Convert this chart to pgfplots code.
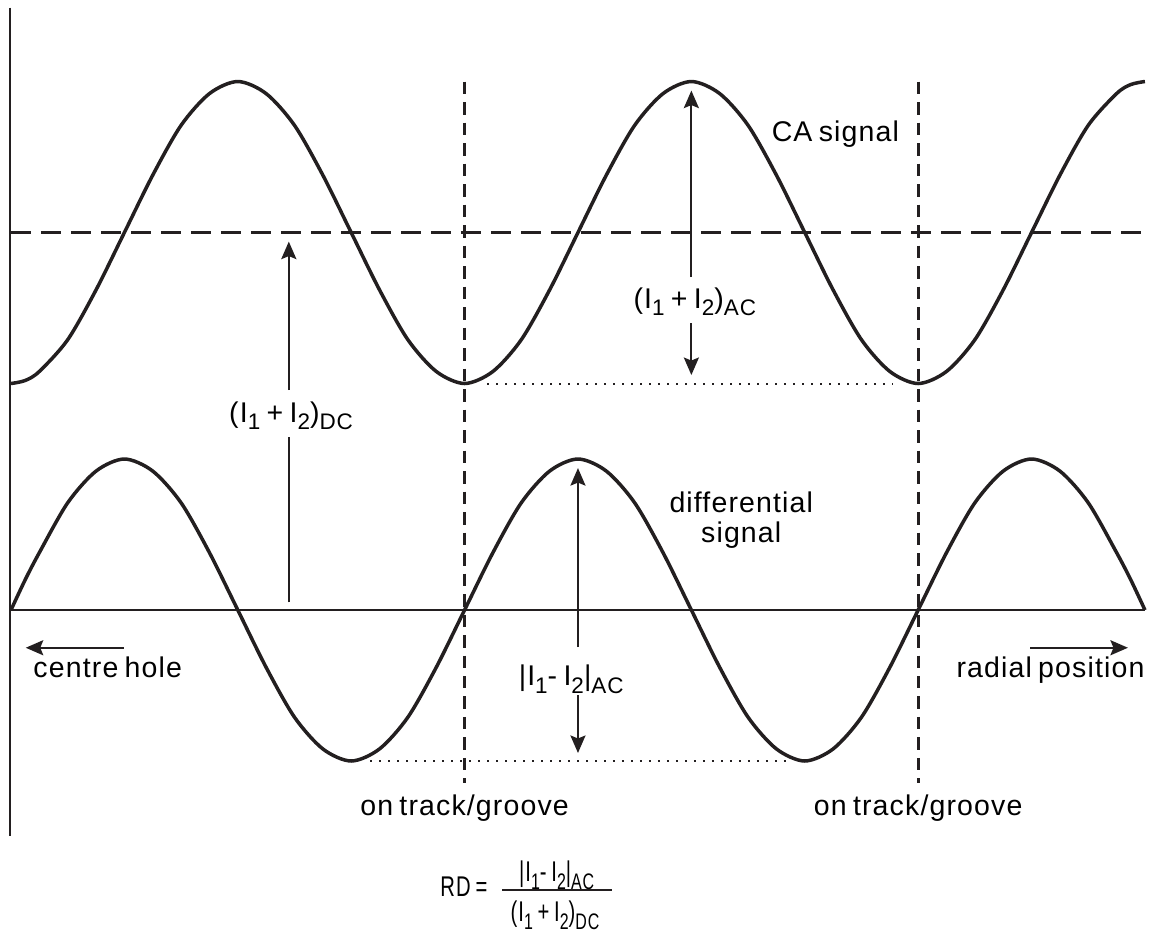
\documentclass[border=0pt]{standalone}
\usepackage{pgfplots}
\pgfplotsset{compat=1.18}
\usepackage{pgfplotstable}
\usepackage{fontspec}
\usetikzlibrary{arrows.meta}
\setmainfont{Liberation Sans}[LetterSpace=4,WordSpace=0.7]
\newfontfamily\condfont{Liberation Sans}[FakeStretch=0.71,LetterSpace=4,WordSpace=0.7]

\definecolor{ink}{HTML}{231F20}
\newcommand\lbl{\fontsize{11.4}{13.7}\selectfont}
\newcommand\sub[1]{\raisebox{-0.28em}{\fontsize{9}{10}\selectfont #1}}

% x: quarter periods, ca: CA signal, diff: differential signal
\pgfplotstableread{
x ca diff
0.00 1.50 0.00
0.125 1.52 0.20
0.25 1.58 0.38
0.50 1.79 0.71
0.75 2.12 0.92
1.00 2.50 1.00
1.25 2.88 0.92
1.50 3.21 0.71
1.75 3.42 0.38
2.00 3.50 0.00
2.25 3.42 -0.38
2.50 3.21 -0.71
2.75 2.88 -0.92
3.00 2.50 -1.00
3.25 2.12 -0.92
3.50 1.79 -0.71
3.75 1.58 -0.38
4.00 1.50 0.00
4.25 1.58 0.38
4.50 1.79 0.71
4.75 2.12 0.92
5.00 2.50 1.00
5.25 2.88 0.92
5.50 3.21 0.71
5.75 3.42 0.38
6.00 3.50 0.00
6.25 3.42 -0.38
6.50 3.21 -0.71
6.75 2.88 -0.92
7.00 2.50 -1.00
7.25 2.12 -0.92
7.50 1.79 -0.71
7.75 1.58 -0.38
8.00 1.50 0.00
8.25 1.58 0.38
8.50 1.79 0.71
8.75 2.12 0.92
9.00 2.50 1.00
9.25 2.88 0.92
9.50 3.21 0.71
9.75 3.42 0.38
9.875 3.48 0.20
10.00 3.50 0.00
}\signals

\begin{document}
\begin{tikzpicture}[font=\lbl, >={Stealth[length=7pt,width=6pt,inset=1.2pt]}]
\begin{axis}[
    hide axis, clip=false, scale only axis,
    x=45.36pt, y=60.4pt,
    xmin=-0.097, xmax=10.071, ymin=-2.146, ymax=4.04,
  ]
% reference lines
\draw[ink, line width=1.1pt, dash pattern=on 8pt off 4pt] (axis cs:0,2.5) -- (axis cs:10.05,2.5);
\draw[ink, line width=1.1pt, dash pattern=on 5pt off 3.2pt] (axis cs:4,3.5) -- (axis cs:4,-1.146);
\draw[ink, line width=1.1pt, dash pattern=on 5pt off 3.2pt] (axis cs:8,3.5) -- (axis cs:8,-1.146);
\draw[ink, line width=0.8pt, dash pattern=on 0.8pt off 2.8pt] (axis cs:4.2,1.5) -- (axis cs:7.78,1.5);
\draw[ink, line width=0.8pt, dash pattern=on 0.8pt off 2.8pt] (axis cs:3.166,-1) -- (axis cs:6.84,-1);

% axes
\draw[ink, line width=1pt] (axis cs:-0.01,3.99) -- (axis cs:-0.01,-1.5);
\draw[ink, line width=1pt] (axis cs:0,0) -- (axis cs:10,0);

% signals
\addplot[ink, line width=1.4pt, smooth] table[x=x, y=ca] {\signals};
\addplot[ink, line width=1.4pt, smooth] table[x=x, y=diff] {\signals};

% (I1+I2)DC
\draw[ink, line width=0.9pt] (axis cs:2.45,0.05) -- (axis cs:2.45,1.146);
\draw[ink, line width=0.9pt, ->] (axis cs:2.45,1.457) -- (axis cs:2.45,2.44);
\node[anchor=base, inner sep=0] at (axis cs:2.47,1.245) {(I\sub{1} + I\sub{2})\sub{DC}};

% (I1+I2)AC
\draw[ink, line width=0.9pt, ->] (axis cs:6,2.205) -- (axis cs:6,3.44);
\draw[ink, line width=0.9pt, ->] (axis cs:6,1.90) -- (axis cs:6,1.556);
\node[anchor=base, inner sep=0] at (axis cs:6.03,2.0) {(I\sub{1} + I\sub{2})\sub{AC}};

% |I1-I2|AC
\draw[ink, line width=0.9pt, ->] (axis cs:5,-0.245) -- (axis cs:5,0.94);
\draw[ink, line width=0.9pt, ->] (axis cs:5,-0.563) -- (axis cs:5,-0.947);
\node[anchor=base, inner sep=0] at (axis cs:4.94,-0.497) {|I\sub{1}- I\sub{2}|\sub{AC}};

% direction arrows
\draw[ink, line width=0.9pt, ->] (axis cs:0.996,-0.25) -- (axis cs:0.13,-0.25);
\node[anchor=base west, inner sep=0] at (axis cs:0.194,-0.45) {centre hole};
\draw[ink, line width=0.9pt, ->] (axis cs:8.99,-0.25) -- (axis cs:9.85,-0.25);
\node[anchor=base east, inner sep=0] at (axis cs:10.0,-0.45) {radial position};

% labels
\node[anchor=base, inner sep=0] at (axis cs:7.27,3.10) {CA signal};
\node[anchor=base, inner sep=0] at (axis cs:6.44,0.649) {differential};
\node[anchor=base, inner sep=0] at (axis cs:6.44,0.45) {signal};
\node[anchor=base, inner sep=0] at (axis cs:4,-1.358) {on track/groove};
\node[anchor=base, inner sep=0] at (axis cs:8,-1.358) {on track/groove};

% formula RD = |I1-I2|AC / (I1+I2)DC
\node[anchor=base west, inner sep=0] at (axis cs:3.783,-1.899) {\condfont RD =};
\draw[ink, line width=1.1pt] (axis cs:4.33,-1.854) -- (axis cs:5.30,-1.854);
\node[anchor=base, inner sep=0] at (axis cs:4.812,-1.80) {\condfont |I\sub{1}- I\sub{2}|\sub{AC}};
\node[anchor=base, inner sep=0] at (axis cs:4.797,-2.064) {\condfont (I\sub{1} + I\sub{2})\sub{DC}};
\end{axis}
\pgfresetboundingbox
\path (current axis.south west) rectangle (current axis.north east);
\end{tikzpicture}
\end{document}
